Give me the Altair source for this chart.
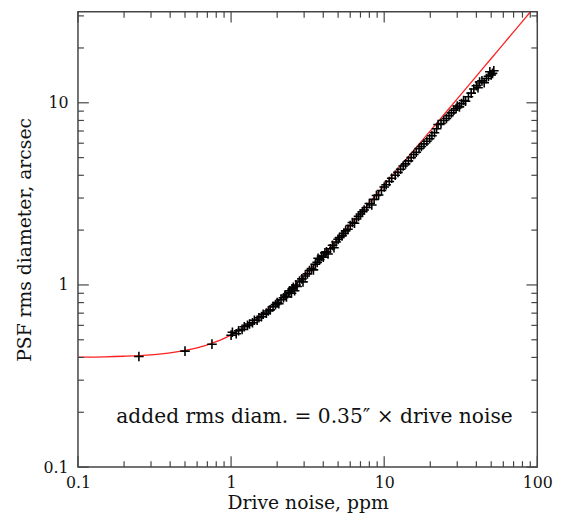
import altair as alt
import pandas as pd

# scatter points (drive noise ppm, PSF rms diameter arcsec)
pts_x = [0.25, 0.5, 0.75,
         1.0, 1.02, 1.08, 1.12, 1.18, 1.22, 1.28, 1.32, 1.38, 1.42, 1.48, 1.52, 1.58, 1.62, 1.7, 1.75,
         1.8, 1.88, 1.95, 2.0, 2.05, 2.12, 2.2, 2.25, 2.3, 2.38, 2.42, 2.48, 2.5, 2.55, 2.6, 2.65, 2.7,
         2.8, 2.9, 2.95, 3.05, 3.15, 3.25, 3.35, 3.45, 3.55, 3.65, 3.7, 3.8, 3.9, 4.0, 4.1, 4.2, 4.3,
         4.45, 4.6, 4.7, 4.85, 5.0, 5.1, 5.3, 5.45, 5.6, 5.8, 6.0, 6.2, 6.4, 6.6, 6.8, 7.0, 7.2, 7.4,
         7.7, 8.0, 8.3, 8.6, 8.9, 9.2, 9.6, 10.0, 10.3, 10.8, 11.2, 11.8, 12.3, 12.8, 13.3, 13.8, 14.4,
         15.0, 15.6, 16.2, 16.9, 17.5, 18.2, 19.0, 19.8, 20.5, 21.3, 22.0, 22.5, 23.5, 24.5, 25.5, 26.5,
         27.5, 28.5, 29.5, 30.0, 31.0, 32.0, 33.0, 34.0, 35.5, 37.0, 38.5, 40.0, 41.0, 42.0, 43.5, 45.0,
         46.5, 48.0, 49.0, 50.0, 51.0, 52.0]
pts_y = [0.405, 0.433, 0.473,
         0.53, 0.55, 0.54, 0.56, 0.57, 0.59, 0.60, 0.61, 0.62, 0.64, 0.64, 0.66, 0.67, 0.69, 0.70, 0.72,
         0.73, 0.76, 0.78, 0.80, 0.79, 0.83, 0.85, 0.88, 0.86, 0.91, 0.93, 0.90, 0.95, 0.97, 0.93, 1.00, 0.98,
         1.05, 1.08, 1.04, 1.12, 1.15, 1.20, 1.23, 1.21, 1.30, 1.33, 1.40, 1.38, 1.44, 1.42, 1.50, 1.52, 1.48,
         1.58, 1.65, 1.60, 1.72, 1.78, 1.82, 1.86, 1.92, 1.98, 2.02, 2.12, 2.20, 2.18, 2.30, 2.38, 2.45, 2.52, 2.58,
         2.66, 2.80, 2.75, 2.95, 3.10, 3.12, 3.30, 3.45, 3.55, 3.70, 3.85, 4.00, 4.15, 4.32, 4.50, 4.62, 4.80,
         5.00, 5.20, 5.35, 5.60, 5.75, 5.95, 6.15, 6.35, 6.60, 6.85, 7.20, 7.60, 7.70, 8.00, 8.20, 8.50,
         8.80, 9.10, 9.30, 9.60, 9.50, 9.90, 10.3, 10.2, 10.8, 11.3, 11.9, 12.4, 12.1, 13.0, 13.2, 12.9,
         13.6, 14.0, 14.8, 14.2, 14.5, 15.0]

# red model curve
curve_x = [0.1, 0.15, 0.2, 0.3, 0.4, 0.5, 0.6, 0.7, 0.8, 0.9, 1.0, 1.2, 1.4, 1.6, 1.8, 2.0, 2.4,
           2.8, 3.3, 4.0, 5.0, 6.0, 7.0, 8.0, 10.0, 12.0, 15.0, 20.0, 25.0, 30.0, 40.0, 50.0, 60.0,
           70.0, 80.0, 90.3]
curve_y = [0.4015, 0.403, 0.406, 0.4135, 0.424, 0.437, 0.452, 0.469, 0.488, 0.509, 0.532, 0.58,
           0.632, 0.688, 0.746, 0.806, 0.93, 1.058, 1.222, 1.456, 1.795, 2.138, 2.48, 2.83, 3.52,
           4.22, 5.27, 7.01, 8.76, 10.51, 14.01, 17.5, 21.0, 24.5, 28.0, 31.62]

x_major = [0.1, 1, 10, 100]
x_minor = [0.2, 0.3, 0.4, 0.5, 0.6, 0.7, 0.8, 0.9, 2, 3, 4, 5, 6, 7, 8, 9,
           20, 30, 40, 50, 60, 70, 80, 90]
y_major = [0.1, 1, 10]
y_minor = [0.2, 0.3, 0.4, 0.5, 0.6, 0.7, 0.8, 0.9, 2, 3, 4, 5, 6, 7, 8, 9, 20, 30]
decade_labels = ["0.1", "1", "10", "100"]

XF = "Drive noise, ppm"
YF = "PSF rms diameter, arcsec"
W, H = 466, 462
FONT = "DejaVu Serif"
INK = "#444444"

xs = alt.Scale(type="log", domain=[0.1, 100])
ys = alt.Scale(type="log", domain=[0.1, 31.62])

def X():
    return alt.X(field=XF, type="quantitative", scale=xs)

def Y():
    return alt.Y(field=YF, type="quantitative", scale=ys)

curve = alt.Chart(pd.DataFrame({XF: curve_x, YF: curve_y})).mark_line(
    color="#ff2020", strokeWidth=1.3, interpolate="monotone", clip=True
).encode(x=X(), y=Y())

points = alt.Chart(pd.DataFrame({XF: pts_x, YF: pts_y})).mark_point(
    shape="M-1,0L1,0M0,-1L0,1", size=95, filled=False, color="black", strokeWidth=1.6, opacity=1
).encode(x=X(), y=Y())

def xticks(vals, length):
    d = pd.DataFrame({XF: vals})
    out = []
    for y0, y1 in [(H, H - length), (0, length)]:
        out.append(alt.Chart(d).mark_rule(color=INK, strokeWidth=1.2).encode(
            x=X(), y=alt.value(y0), y2=alt.value(y1)))
    return out

def yticks(vals, length):
    d = pd.DataFrame({YF: vals})
    out = []
    for x0, x1 in [(0, length), (W, W - length)]:
        out.append(alt.Chart(d).mark_rule(color=INK, strokeWidth=1.2).encode(
            y=Y(), x=alt.value(x0), x2=alt.value(x1)))
    return out

ann = alt.Chart(pd.DataFrame({"t": ["added rms diam. = 0.35\u2033 \u00d7 drive noise"]})).mark_text(
    font=FONT, fontSize=20.5, color="#111111", align="center", baseline="middle"
).encode(text="t:N", x=alt.value(240), y=alt.value(411))

label_expr = "indexof(" + str(decade_labels) + ", datum.label) >= 0 ? datum.label : ''"

layers = xticks(x_major, 11) + xticks(x_minor, 6) + yticks(y_major, 11) + yticks(y_minor, 6)
chart = alt.layer(curve, points, *layers, ann).properties(
    width=W, height=H,
    autosize=alt.AutoSizeParams(type="none"),
    padding={"left": 71, "top": 0, "right": 20, "bottom": 57},
).configure_view(stroke=INK, strokeWidth=1.5).configure_axis(
    labelFont=FONT, titleFont=FONT, labelFontSize=16, titleFontSize=19,
    labelColor="#111111", titleColor="#111111", titleFontWeight="normal",
    grid=False, ticks=False, domain=False, labelFlush=False, labelOverlap=False,
    labelExpr=label_expr
).configure_axisX(labelPadding=8, titlePadding=3).configure_axisY(
    labelPadding=10, titlePadding=9)

chart.save("out.html", embed_options={"renderer": "svg", "actions": False})
